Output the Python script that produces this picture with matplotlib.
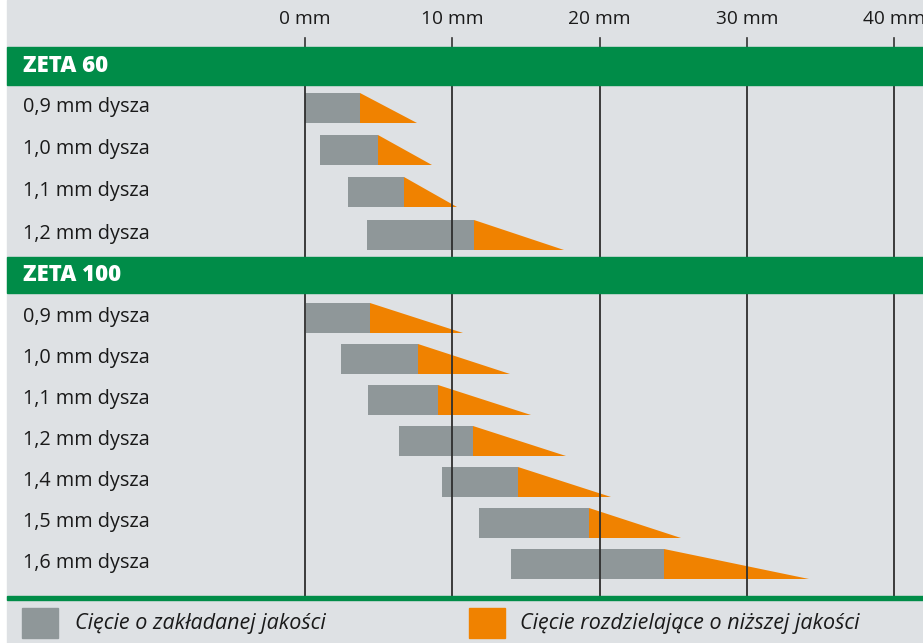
import matplotlib
matplotlib.use('Agg')
from matplotlib import pyplot as plt
from matplotlib.patches import Rectangle

# --- data (mm) ---
groups = ['ZETA 60', 'ZETA 100']
labels_60 = ['0,9 mm dysza', '1,0 mm dysza', '1,1 mm dysza', '1,2 mm dysza']
start_60 = [0.0, 1.0, 2.9, 4.2]
good_60 = [3.75, 4.95, 6.7, 11.5]
sep_60 = [7.6, 8.6, 10.3, 17.6]

labels_100 = ['0,9 mm dysza', '1,0 mm dysza', '1,1 mm dysza', '1,2 mm dysza',
              '1,4 mm dysza', '1,5 mm dysza', '1,6 mm dysza']
start_100 = [0.1, 2.45, 4.25, 6.35, 9.3, 11.8, 14.0]
good_100 = [4.4, 7.65, 9.05, 11.4, 14.45, 19.25, 24.35]
sep_100 = [10.7, 13.95, 15.35, 17.7, 20.75, 25.5, 34.2]

ticks = [0, 10, 20, 30, 40]
tick_labels = ['0 mm', '10 mm', '20 mm', '30 mm', '40 mm']
legend_labels = ['Cięcie o zakładanej jakości', 'Cięcie rozdzielające o niższej jakości']

GREEN = '#008C48'
BG = '#DEE1E4'
GRAY = '#8F9799'
ORANGE = '#F08200'
TXT = '#1A1A1A'

W, H = 923, 643
PX0 = 305.0          # pixel of 0 mm
PX_PER_MM = 14.73


def mm(px):
    return (px - PX0) / PX_PER_MM


plt.rcParams['font.family'] = ['Open Sans', 'DejaVu Sans']

fig = plt.figure(figsize=(W / 100, H / 100), dpi=100)
fig.patch.set_facecolor('white')
ax = fig.add_axes([0, 0, 1, 1])
ax.set_xlim(mm(0), mm(W))
ax.set_ylim(H, 0)
ax.axis('off')

# background panel
ax.add_patch(Rectangle((mm(7), 0), mm(W) - mm(7), H, color=BG, zorder=0))

# axis tick labels and ticks on top
for t, lab in zip(ticks, tick_labels):
    ax.text(t, 19, lab, ha='center', va='center', fontsize=13.8, color=TXT)
    ax.plot([t, t], [38, 47], color='#333333', lw=1.2, zorder=1)

BAR_H = 30


def draw_group(title, band_top, band_bot, row0, pitch, labels, start, good, sep):
    ax.add_patch(Rectangle((mm(7), band_top), mm(W) - mm(7), band_bot - band_top,
                           color=GREEN, zorder=4))
    ax.text(mm(23), (band_top + band_bot) / 2, title, ha='left', va='center',
            fontsize=16, fontweight='heavy', color='white', zorder=5)
    for i, lab in enumerate(labels):
        yc = row0 + i * pitch
        ax.text(mm(23), yc - 1, lab, ha='left', va='center', fontsize=14.3, color=TXT)
        ax.barh(yc, good[i] - start[i], left=start[i], height=BAR_H,
                color=GRAY, zorder=2)
        top, bot = yc - BAR_H / 2, yc + BAR_H / 2
        ax.fill([good[i], good[i], sep[i]], [top, bot, bot], color=ORANGE,
                lw=0, zorder=2)


draw_group(groups[0], 47, 85, 108, 42.2, labels_60, start_60, good_60, sep_60)
draw_group(groups[1], 257, 293, 318, 41.0, labels_100, start_100, good_100, sep_100)

# vertical grid lines over the bars
for t in ticks:
    ax.plot([t, t], [85, 597], color='#2E2E2E', lw=1.3, zorder=3)

# bottom green rule
ax.add_patch(Rectangle((mm(7), 596), mm(W) - mm(7), 4, color=GREEN, zorder=4))

# legend
ax.add_patch(Rectangle((mm(22), 608), mm(58) - mm(22), 30, color=GRAY, zorder=4))
ax.text(mm(75), 623, legend_labels[0], ha='left', va='center', fontsize=15.5,
        style='italic', color=TXT)
ax.add_patch(Rectangle((mm(469), 608), mm(505) - mm(469), 30, color=ORANGE, zorder=4))
ax.text(mm(520), 623, legend_labels[1], ha='left', va='center', fontsize=15.5,
        style='italic', color=TXT)

plt.savefig('out.png', dpi=100, facecolor=fig.get_facecolor())
